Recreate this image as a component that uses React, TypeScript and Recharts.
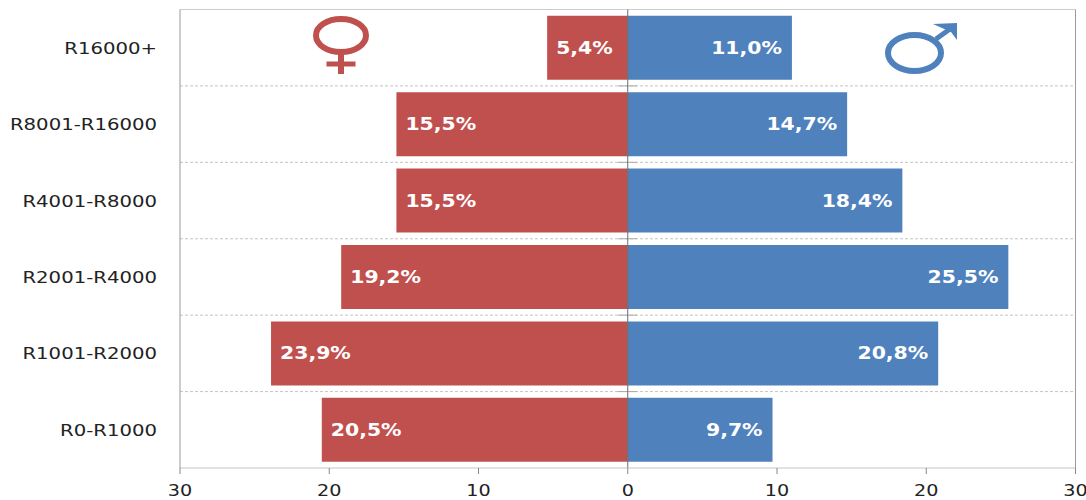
import React from "react";
import { BarChart, Bar, XAxis, YAxis, CartesianGrid, LabelList, ReferenceLine, Customized } from "recharts";

const categories = ["R16000+", "R8001-R16000", "R4001-R8000", "R2001-R4000", "R1001-R2000", "R0-R1000"];
const female = [5.4, 15.5, 15.5, 19.2, 23.9, 20.5];
const male = [11.0, 14.7, 18.4, 25.5, 20.8, 9.7];
const axisTicks = [-30, -20, -10, 0, 10, 20, 30];

const data = categories.map((c, i) => ({ category: c, female: -female[i], male: male[i] }));

const RED = "#C0504D";
const BLUE = "#4F81BD";
const FONT = "'DejaVu Sans', sans-serif";

const fmt = (v: number) => Math.abs(v).toFixed(1).replace(".", ",") + "%";

const CategoryTick = (props: any) => {
  const { x, y, payload } = props;
  return (
    <text transform={`translate(${x},${y + 6}) scale(1.27,1)`} textAnchor="end" fontFamily={FONT} fontSize={15.5} fill="#222">
      {payload.value}
    </text>
  );
};

const ValueTick = (props: any) => {
  const { x, y, payload } = props;
  return (
    <text transform={`translate(${x},${y + 22}) scale(1.2,1)`} textAnchor="middle" fontFamily={FONT} fontSize={16} fill="#222">
      {Math.abs(payload.value)}
    </text>
  );
};

const BarLabel = (side: "left" | "right") => (props: any) => {
  const { x, y, width, height, value } = props;
  const left = Math.min(x, x + width);
  const right = Math.max(x, x + width);
  const px = side === "left" ? left + 9 : right - 10;
  return (
    <text
      transform={`translate(${px},${y + height / 2 + 6}) scale(1.2,1)`}
      textAnchor={side === "left" ? "start" : "end"}
      fontFamily={FONT}
      fontWeight="bold"
      fontSize={17}
      fill="#fff"
    >
      {fmt(value)}
    </text>
  );
};

const Decorations = () => (
  <g>
    <line x1={180} x2={1075.5} y1={9.5} y2={9.5} stroke="#cccccc" />
    {categories.slice(1).map((c, i) => {
      const y = 9.5 + ((i + 1) * 458.5) / categories.length;
      return <line key={c} x1={618} x2={637} y1={y} y2={y} stroke="#aaaaaa" />;
    })}
    <ellipse cx={341} cy={35.5} rx={25} ry={16.5} fill="none" stroke={RED} strokeWidth={6} />
    <rect x={338} y={54} width={6} height={20} fill={RED} />
    <rect x={326.5} y={61.5} width={29} height={5} fill={RED} />
    <ellipse cx={914.5} cy={53} rx={26.5} ry={18} fill="none" stroke={BLUE} strokeWidth={6} />
    <line x1={936} y1={39} x2={950} y2={29} stroke={BLUE} strokeWidth={5} />
    <polygon points="933,24 957,23 957,40 951,32" fill={BLUE} />
  </g>
);

export default function App() {
  return (
    <div style={{ position: "absolute", left: 0, top: 0, width: 1086, height: 500, background: "#fff" }}>
      <BarChart
        width={1086}
        height={500}
        data={data}
        layout="vertical"
        stackOffset="sign"
        barCategoryGap="8.2%"
        margin={{ top: 9.5, right: 10.5, bottom: 0, left: 0 }}
      >
        <CartesianGrid
          vertical={false}
          stroke="#c4c4c4"
          strokeDasharray="3 2"
          horizontalCoordinatesGenerator={({ offset }: any) =>
            categories.slice(1).map((_, i) => offset.top + ((i + 1) * offset.height) / categories.length)
          }
        />
        <XAxis
          type="number"
          domain={[-30, 30]}
          ticks={axisTicks}
          height={32}
          tickSize={6}
          tickMargin={0}
          interval={0}
          stroke="#c4c4c4"
          tickLine={{ stroke: "#888888" }}
          tick={<ValueTick />}
        />
        <YAxis
          type="category"
          dataKey="category"
          width={180}
          interval={0}
          tickLine={false}
          tickSize={0}
          tickMargin={23}
          stroke="#999999"
          tick={<CategoryTick />}
        />
        <Bar dataKey="female" stackId="g" fill={RED} isAnimationActive={false}>
          <LabelList dataKey="female" content={BarLabel("left")} />
        </Bar>
        <Bar dataKey="male" stackId="g" fill={BLUE} isAnimationActive={false}>
          <LabelList dataKey="male" content={BarLabel("right")} />
        </Bar>
        <ReferenceLine x={0} stroke="#6b6b6b" />
        <ReferenceLine x={30} stroke="#999999" />
        <Customized component={Decorations} />
      </BarChart>
    </div>
  );
}
